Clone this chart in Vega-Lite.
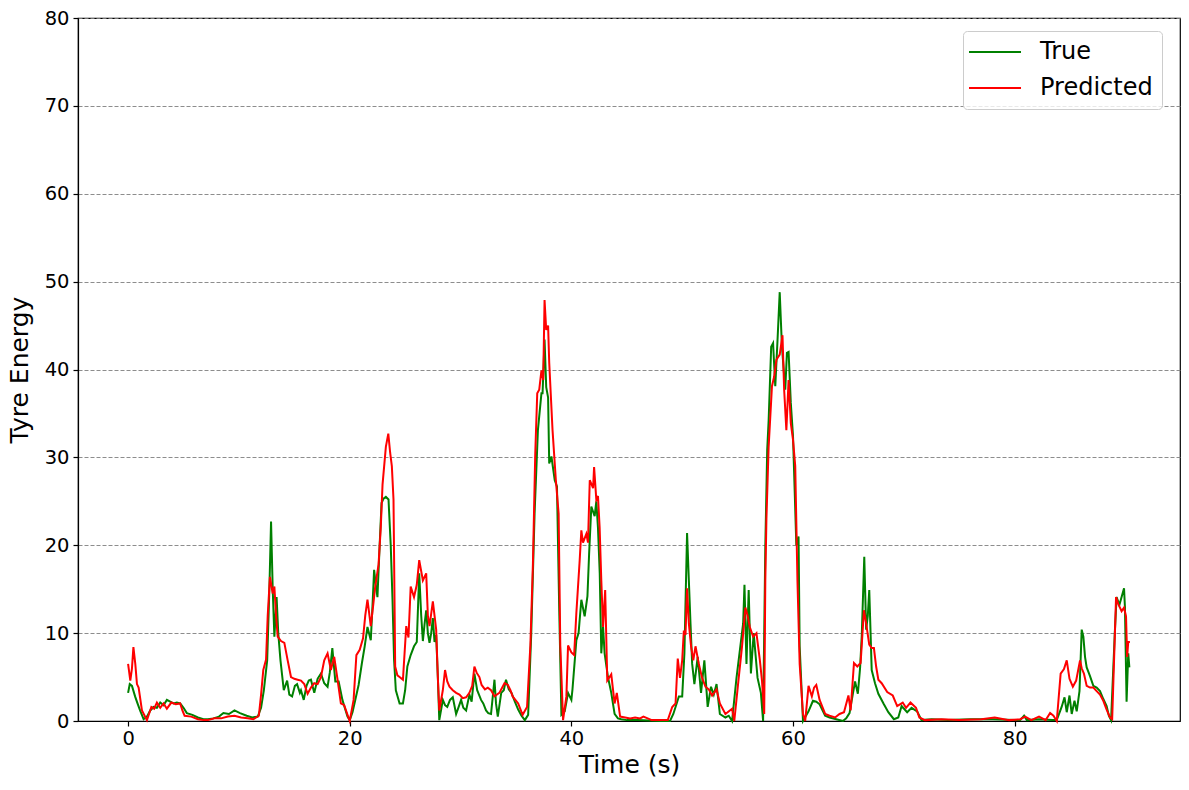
{
  "$schema": "https://vega.github.io/schema/vega-lite/v6.json",
  "width": 1102,
  "height": 703,
  "autosize": {"type": "none"},
  "padding": {"left": 78, "top": 18, "right": 9, "bottom": 69},
  "background": "white",
  "config": {
    "font": "DejaVu Sans",
    "view": {"stroke": "black", "strokeWidth": 1.2},
    "axis": {
      "domainColor": "black",
      "domainWidth": 1.2,
      "tickColor": "black",
      "tickSize": 5,
      "tickWidth": 1.2,
      "labelFont": "DejaVu Sans",
      "labelFontSize": 19.5,
      "labelColor": "black",
      "titleFont": "DejaVu Sans",
      "titleFontSize": 25,
      "titleFontWeight": "normal",
      "titleColor": "black"
    }
  },
  "datasets": {
    "truth": [
      {"t":0.0,"v":3.2},{"t":0.15,"v":4.2},{"t":0.35,"v":4.0},{"t":0.63,"v":2.8},{"t":0.85,"v":2.0},{"t":1.08,"v":1.2},{"t":1.4,"v":0.2},{"t":1.7,"v":0.5},{"t":2.0,"v":1.2},{"t":2.3,"v":1.6},{"t":2.6,"v":1.5},{"t":2.9,"v":2.1},{"t":3.2,"v":1.8},{"t":3.5,"v":2.4},{"t":3.8,"v":2.2},{"t":4.1,"v":2.0},{"t":4.4,"v":2.1},{"t":4.7,"v":2.0},{"t":5.0,"v":1.5},{"t":5.3,"v":0.9},{"t":5.8,"v":0.7},{"t":6.3,"v":0.4},{"t":6.8,"v":0.2},{"t":7.2,"v":0.2},{"t":7.7,"v":0.3},{"t":8.2,"v":0.5},{"t":8.6,"v":0.9},{"t":9.1,"v":0.8},{"t":9.6,"v":1.2},{"t":10.1,"v":0.9},{"t":10.7,"v":0.6},{"t":11.2,"v":0.4},{"t":11.7,"v":0.5},{"t":12.0,"v":1.5},{"t":12.25,"v":3.5},{"t":12.55,"v":6.9},{"t":12.75,"v":15},{"t":12.9,"v":22.7},{"t":13.05,"v":15},{"t":13.2,"v":9.6},{"t":13.4,"v":14.1},{"t":13.55,"v":10},{"t":13.75,"v":6.9},{"t":14.05,"v":3.5},{"t":14.35,"v":4.6},{"t":14.55,"v":3.0},{"t":14.8,"v":2.8},{"t":15.05,"v":4.0},{"t":15.25,"v":4.2},{"t":15.5,"v":3.2},{"t":15.6,"v":3.5},{"t":15.85,"v":2.4},{"t":16.1,"v":4.0},{"t":16.3,"v":4.6},{"t":16.5,"v":4.7},{"t":16.8,"v":3.2},{"t":17.1,"v":4.8},{"t":17.4,"v":5.4},{"t":17.7,"v":4.3},{"t":18.0,"v":3.9},{"t":18.2,"v":5.5},{"t":18.43,"v":8.3},{"t":18.7,"v":4.5},{"t":19.0,"v":4.5},{"t":19.34,"v":2.4},{"t":19.6,"v":1.3},{"t":19.8,"v":0.5},{"t":20.0,"v":0.1},{"t":20.25,"v":1.0},{"t":20.5,"v":2.4},{"t":20.8,"v":4.1},{"t":21.1,"v":6.6},{"t":21.35,"v":8.5},{"t":21.6,"v":10.7},{"t":21.9,"v":9.2},{"t":22.05,"v":13},{"t":22.2,"v":17.2},{"t":22.35,"v":15.5},{"t":22.5,"v":14.1},{"t":22.7,"v":20},{"t":22.87,"v":24.8},{"t":23.05,"v":25.3},{"t":23.26,"v":25.5},{"t":23.5,"v":25.2},{"t":23.7,"v":20},{"t":23.86,"v":13.8},{"t":24.0,"v":7},{"t":24.16,"v":3.5},{"t":24.5,"v":2.0},{"t":24.8,"v":2.0},{"t":25.0,"v":3.5},{"t":25.2,"v":6.2},{"t":25.5,"v":7.5},{"t":25.8,"v":8.5},{"t":26.05,"v":9},{"t":26.27,"v":16.8},{"t":26.45,"v":12},{"t":26.6,"v":9.1},{"t":26.75,"v":11},{"t":26.9,"v":12.6},{"t":27.05,"v":10},{"t":27.2,"v":8.9},{"t":27.35,"v":10},{"t":27.5,"v":11.7},{"t":27.65,"v":9},{"t":27.8,"v":9.8},{"t":27.95,"v":5},{"t":28.08,"v":0.1},{"t":28.25,"v":1.3},{"t":28.4,"v":2.4},{"t":28.6,"v":1.8},{"t":28.8,"v":1.6},{"t":29.05,"v":2.4},{"t":29.3,"v":2.7},{"t":29.6,"v":0.8},{"t":29.8,"v":1.5},{"t":30.05,"v":2.4},{"t":30.25,"v":1.5},{"t":30.5,"v":1.2},{"t":30.8,"v":3},{"t":31.0,"v":2.2},{"t":31.25,"v":5.4},{"t":31.5,"v":3.5},{"t":31.85,"v":2.4},{"t":32.05,"v":2.0},{"t":32.3,"v":1.2},{"t":32.5,"v":0.9},{"t":32.75,"v":0.8},{"t":33.06,"v":4.7},{"t":33.2,"v":2},{"t":33.36,"v":0.5},{"t":33.67,"v":3.2},{"t":33.9,"v":3.5},{"t":34.1,"v":4.7},{"t":34.35,"v":3.6},{"t":34.6,"v":3.2},{"t":34.9,"v":2.2},{"t":35.2,"v":1.3},{"t":35.5,"v":0.6},{"t":35.8,"v":0.1},{"t":36.1,"v":0.7},{"t":36.38,"v":10},{"t":36.68,"v":23.6},{"t":36.98,"v":33.1},{"t":37.3,"v":37.3},{"t":37.4,"v":37.3},{"t":37.58,"v":43.4},{"t":37.73,"v":38},{"t":37.9,"v":36.8},{"t":38.0,"v":29.3},{"t":38.2,"v":30.1},{"t":38.5,"v":27.4},{"t":38.7,"v":26.7},{"t":38.9,"v":13},{"t":39.1,"v":0.7},{"t":39.4,"v":1.1},{"t":39.7,"v":3.2},{"t":40.0,"v":2.4},{"t":40.1,"v":3.6},{"t":40.45,"v":9.2},{"t":40.65,"v":10},{"t":40.9,"v":13.8},{"t":41.2,"v":11.9},{"t":41.45,"v":14.2},{"t":41.6,"v":19},{"t":41.8,"v":24.4},{"t":42.1,"v":23.3},{"t":42.25,"v":25},{"t":42.4,"v":22},{"t":42.56,"v":16.8},{"t":42.7,"v":7.7},{"t":42.86,"v":10.7},{"t":43.0,"v":7.7},{"t":43.3,"v":5.0},{"t":43.6,"v":3.2},{"t":43.9,"v":0.8},{"t":44.2,"v":0.3},{"t":44.5,"v":0.2},{"t":45.0,"v":0.1},{"t":46.0,"v":0.1},{"t":47.0,"v":0.05},{"t":48.0,"v":0.0},{"t":48.9,"v":0.0},{"t":49.2,"v":0.8},{"t":49.4,"v":1.6},{"t":49.7,"v":2.8},{"t":50.0,"v":2.8},{"t":50.2,"v":7.7},{"t":50.44,"v":21.4},{"t":50.6,"v":16},{"t":50.75,"v":11.1},{"t":50.9,"v":6.5},{"t":51.1,"v":4.2},{"t":51.4,"v":7.3},{"t":51.7,"v":3.2},{"t":52.0,"v":6.9},{"t":52.3,"v":1.6},{"t":52.6,"v":3.9},{"t":52.85,"v":3.0},{"t":53.1,"v":4.2},{"t":53.4,"v":0.8},{"t":53.9,"v":0.4},{"t":54.2,"v":0.6},{"t":54.5,"v":0.0},{"t":54.9,"v":4.9},{"t":55.2,"v":8.0},{"t":55.5,"v":11.1},{"t":55.62,"v":15.5},{"t":55.8,"v":6.5},{"t":56.0,"v":14.9},{"t":56.2,"v":5.4},{"t":56.45,"v":10.0},{"t":56.8,"v":4.9},{"t":57.1,"v":3.2},{"t":57.3,"v":0.0},{"t":57.5,"v":19.8},{"t":57.67,"v":30.8},{"t":57.8,"v":34.2},{"t":58.03,"v":42.6},{"t":58.2,"v":43},{"t":58.4,"v":38.1},{"t":58.6,"v":43.3},{"t":58.8,"v":48.8},{"t":59.0,"v":42.6},{"t":59.3,"v":37.7},{"t":59.45,"v":41.9},{"t":59.6,"v":42},{"t":59.8,"v":36.2},{"t":60.0,"v":32.4},{"t":60.3,"v":20},{"t":60.5,"v":21},{"t":60.6,"v":8.5},{"t":60.9,"v":0.0},{"t":61.4,"v":1.1},{"t":61.8,"v":2.3},{"t":62.1,"v":2.2},{"t":62.4,"v":1.9},{"t":62.9,"v":0.6},{"t":63.3,"v":0.4},{"t":63.9,"v":0.2},{"t":64.5,"v":0.0},{"t":64.8,"v":0.3},{"t":65.1,"v":0.9},{"t":65.4,"v":3.1},{"t":65.6,"v":4.5},{"t":65.85,"v":3.1},{"t":66.05,"v":6},{"t":66.2,"v":9.6},{"t":66.43,"v":18.7},{"t":66.6,"v":10.4},{"t":66.75,"v":12},{"t":66.88,"v":14.9},{"t":67.1,"v":5.8},{"t":67.4,"v":4.3},{"t":67.7,"v":3.1},{"t":68.2,"v":1.9},{"t":68.6,"v":1.0},{"t":69.1,"v":0.2},{"t":69.5,"v":0.4},{"t":69.8,"v":1.7},{"t":70.3,"v":1.0},{"t":70.7,"v":1.5},{"t":71.2,"v":1.1},{"t":71.6,"v":0.1},{"t":72.5,"v":0.2},{"t":74,"v":0.1},{"t":76,"v":0.2},{"t":78,"v":0.2},{"t":80,"v":0.1},{"t":80.5,"v":0.1},{"t":80.85,"v":0.6},{"t":81.1,"v":0.1},{"t":82.2,"v":0.2},{"t":83.4,"v":0.1},{"t":83.8,"v":0.1},{"t":84.24,"v":1.6},{"t":84.5,"v":2.7},{"t":84.7,"v":1.0},{"t":84.95,"v":2.9},{"t":85.15,"v":0.8},{"t":85.4,"v":2.3},{"t":85.6,"v":1.1},{"t":85.85,"v":3.4},{"t":86.05,"v":10.4},{"t":86.2,"v":9.6},{"t":86.35,"v":7.3},{"t":86.5,"v":6.1},{"t":86.8,"v":5.1},{"t":87.1,"v":4.0},{"t":87.4,"v":3.8},{"t":87.7,"v":3.4},{"t":88.0,"v":2.5},{"t":88.3,"v":1.7},{"t":88.5,"v":0.6},{"t":88.7,"v":0.1},{"t":89.05,"v":10.4},{"t":89.2,"v":14.1},{"t":89.45,"v":13.2},{"t":89.65,"v":14.1},{"t":89.87,"v":15.1},{"t":89.95,"v":13},{"t":90.1,"v":2.2},{"t":90.25,"v":7.7},{"t":90.35,"v":6.1}
    ],
    "pred": [
      {"t":0.0,"v":6.5},{"t":0.2,"v":4.6},{"t":0.35,"v":6},{"t":0.48,"v":8.4},{"t":0.65,"v":6.5},{"t":0.8,"v":4.2},{"t":0.95,"v":3.8},{"t":1.25,"v":1.2},{"t":1.7,"v":0.1},{"t":2.1,"v":1.6},{"t":2.35,"v":1.4},{"t":2.6,"v":2.1},{"t":2.9,"v":1.5},{"t":3.2,"v":2.0},{"t":3.5,"v":1.4},{"t":3.9,"v":2.1},{"t":4.3,"v":1.9},{"t":4.7,"v":2.0},{"t":4.9,"v":1.2},{"t":5.1,"v":0.6},{"t":5.7,"v":0.5},{"t":6.3,"v":0.2},{"t":6.8,"v":0.1},{"t":7.2,"v":0.1},{"t":7.8,"v":0.3},{"t":8.4,"v":0.3},{"t":9.0,"v":0.5},{"t":9.6,"v":0.6},{"t":10.2,"v":0.4},{"t":10.8,"v":0.3},{"t":11.3,"v":0.2},{"t":11.8,"v":0.6},{"t":12.0,"v":3},{"t":12.2,"v":5.8},{"t":12.45,"v":7.0},{"t":12.6,"v":12},{"t":12.8,"v":16.4},{"t":13.05,"v":14.5},{"t":13.2,"v":15.3},{"t":13.35,"v":12},{"t":13.5,"v":9.6},{"t":13.8,"v":9.1},{"t":14.1,"v":8.9},{"t":14.4,"v":6.9},{"t":14.7,"v":5.0},{"t":15.0,"v":4.8},{"t":15.3,"v":4.7},{"t":15.6,"v":4.6},{"t":15.9,"v":4.2},{"t":16.2,"v":3.1},{"t":16.5,"v":3.8},{"t":16.8,"v":4.3},{"t":17.1,"v":4.2},{"t":17.4,"v":5.0},{"t":17.7,"v":6.9},{"t":18.0,"v":7.7},{"t":18.3,"v":5.8},{"t":18.6,"v":7.3},{"t":18.9,"v":4.7},{"t":19.2,"v":2.0},{"t":19.5,"v":1.8},{"t":19.8,"v":0.7},{"t":20.0,"v":0.0},{"t":20.35,"v":2.4},{"t":20.6,"v":7.5},{"t":20.9,"v":8.1},{"t":21.2,"v":9.4},{"t":21.4,"v":12},{"t":21.6,"v":13.8},{"t":21.9,"v":10.8},{"t":22.1,"v":13},{"t":22.3,"v":15.3},{"t":22.6,"v":17.8},{"t":22.8,"v":22},{"t":22.96,"v":26.9},{"t":23.26,"v":31.2},{"t":23.48,"v":32.7},{"t":23.65,"v":30.5},{"t":23.8,"v":29},{"t":23.95,"v":25.2},{"t":24.1,"v":6.2},{"t":24.3,"v":5.2},{"t":24.5,"v":5.0},{"t":24.8,"v":4.7},{"t":25.1,"v":10.8},{"t":25.3,"v":9.5},{"t":25.5,"v":15.3},{"t":25.8,"v":14.1},{"t":26.05,"v":15.5},{"t":26.27,"v":18.3},{"t":26.6,"v":16.0},{"t":26.9,"v":16.8},{"t":27.05,"v":12},{"t":27.2,"v":10.8},{"t":27.5,"v":13.6},{"t":27.8,"v":10.4},{"t":27.95,"v":5},{"t":28.08,"v":1.2},{"t":28.4,"v":3.5},{"t":28.6,"v":5.8},{"t":28.8,"v":4.5},{"t":29.0,"v":3.9},{"t":29.3,"v":3.5},{"t":29.6,"v":3.2},{"t":29.9,"v":3.0},{"t":30.2,"v":2.6},{"t":30.5,"v":2.7},{"t":30.8,"v":3.2},{"t":31.05,"v":4},{"t":31.25,"v":6.2},{"t":31.45,"v":5.5},{"t":31.7,"v":5.0},{"t":31.9,"v":4.1},{"t":32.2,"v":3.6},{"t":32.46,"v":3.8},{"t":32.75,"v":3.5},{"t":33.06,"v":2.8},{"t":33.5,"v":3.2},{"t":33.97,"v":4.3},{"t":34.27,"v":4.1},{"t":34.5,"v":3.5},{"t":34.7,"v":2.8},{"t":35.2,"v":2.0},{"t":35.6,"v":0.7},{"t":36.0,"v":1.6},{"t":36.3,"v":8.6},{"t":36.53,"v":17.9},{"t":36.74,"v":30.4},{"t":36.92,"v":37.3},{"t":37.1,"v":37.7},{"t":37.3,"v":39.9},{"t":37.46,"v":38.8},{"t":37.58,"v":47.9},{"t":37.73,"v":44.5},{"t":37.9,"v":45},{"t":38.0,"v":40.8},{"t":38.3,"v":33.1},{"t":38.6,"v":27.4},{"t":38.85,"v":23.6},{"t":39.0,"v":8.6},{"t":39.25,"v":0.1},{"t":39.55,"v":2.8},{"t":39.7,"v":8.6},{"t":40.0,"v":7.8},{"t":40.25,"v":7.5},{"t":40.45,"v":12.3},{"t":40.75,"v":18.3},{"t":40.9,"v":21.7},{"t":41.05,"v":20.3},{"t":41.35,"v":21.3},{"t":41.5,"v":20.3},{"t":41.66,"v":27.4},{"t":41.96,"v":26.5},{"t":42.05,"v":28.9},{"t":42.25,"v":25.2},{"t":42.4,"v":25.6},{"t":42.55,"v":22},{"t":42.7,"v":16},{"t":42.86,"v":10.7},{"t":43.05,"v":14.9},{"t":43.24,"v":4.6},{"t":43.6,"v":5.3},{"t":43.9,"v":2.0},{"t":44.1,"v":3.2},{"t":44.4,"v":0.5},{"t":44.85,"v":0.4},{"t":45.3,"v":0.3},{"t":45.75,"v":0.4},{"t":46.2,"v":0.3},{"t":46.5,"v":0.5},{"t":47.25,"v":0.1},{"t":48.0,"v":0.1},{"t":48.7,"v":0.1},{"t":49.1,"v":1.6},{"t":49.4,"v":2.0},{"t":49.6,"v":7.1},{"t":49.8,"v":4.9},{"t":50.0,"v":6.9},{"t":50.15,"v":10.3},{"t":50.3,"v":9.8},{"t":50.44,"v":15.1},{"t":50.6,"v":11.1},{"t":50.8,"v":8.5},{"t":51.0,"v":6.9},{"t":51.2,"v":8.5},{"t":51.5,"v":6.5},{"t":51.8,"v":4.9},{"t":52.1,"v":3.9},{"t":52.4,"v":3.6},{"t":52.7,"v":2.9},{"t":53.1,"v":3.6},{"t":53.4,"v":2.0},{"t":53.9,"v":0.8},{"t":54.5,"v":1.4},{"t":54.7,"v":0.0},{"t":55.1,"v":4.9},{"t":55.4,"v":8.5},{"t":55.7,"v":12.9},{"t":55.9,"v":12.0},{"t":56.1,"v":10.7},{"t":56.4,"v":9.6},{"t":56.7,"v":10.0},{"t":57.0,"v":7.0},{"t":57.2,"v":4.6},{"t":57.4,"v":0.8},{"t":57.5,"v":16},{"t":57.6,"v":23},{"t":57.8,"v":31.2},{"t":58.1,"v":38.1},{"t":58.3,"v":39.2},{"t":58.5,"v":41.1},{"t":58.8,"v":41.7},{"t":59.05,"v":43.9},{"t":59.2,"v":37.7},{"t":59.4,"v":33.1},{"t":59.6,"v":38.8},{"t":59.8,"v":33.9},{"t":60.0,"v":32},{"t":60.2,"v":29.0},{"t":60.4,"v":16},{"t":60.6,"v":6.5},{"t":60.9,"v":0.8},{"t":61.1,"v":0.0},{"t":61.4,"v":4.0},{"t":61.7,"v":2.8},{"t":61.9,"v":3.8},{"t":62.1,"v":4.1},{"t":62.4,"v":2.4},{"t":62.9,"v":0.8},{"t":63.3,"v":0.6},{"t":63.8,"v":0.4},{"t":64.2,"v":0.8},{"t":64.6,"v":1.0},{"t":65.0,"v":2.9},{"t":65.2,"v":1.2},{"t":65.5,"v":6.6},{"t":65.8,"v":6.2},{"t":66.1,"v":6.6},{"t":66.4,"v":12.6},{"t":66.6,"v":11.1},{"t":66.88,"v":8.7},{"t":67.1,"v":8.3},{"t":67.3,"v":8.3},{"t":67.5,"v":6.2},{"t":67.7,"v":4.7},{"t":68.0,"v":4.3},{"t":68.5,"v":3.3},{"t":69.0,"v":2.9},{"t":69.4,"v":1.7},{"t":69.9,"v":2.1},{"t":70.2,"v":1.5},{"t":70.6,"v":2.1},{"t":71.1,"v":1.5},{"t":71.4,"v":0.4},{"t":71.9,"v":0.1},{"t":73.4,"v":0.2},{"t":75,"v":0.1},{"t":77,"v":0.2},{"t":78.2,"v":0.4},{"t":79.5,"v":0.1},{"t":80.5,"v":0.2},{"t":80.95,"v":0.5},{"t":81.5,"v":0.1},{"t":82.2,"v":0.5},{"t":82.8,"v":0.1},{"t":83.2,"v":0.9},{"t":83.5,"v":0.6},{"t":83.8,"v":0.0},{"t":84.15,"v":5.4},{"t":84.45,"v":5.9},{"t":84.7,"v":6.9},{"t":84.95,"v":4.8},{"t":85.25,"v":3.9},{"t":85.55,"v":4.6},{"t":85.9,"v":6.9},{"t":86.05,"v":6.0},{"t":86.25,"v":5.4},{"t":86.5,"v":4.0},{"t":86.8,"v":3.8},{"t":87.1,"v":3.8},{"t":87.4,"v":3.4},{"t":87.7,"v":3.0},{"t":88.0,"v":2.3},{"t":88.3,"v":1.3},{"t":88.6,"v":0.4},{"t":88.8,"v":0.2},{"t":89.15,"v":14.1},{"t":89.35,"v":13.3},{"t":89.5,"v":12.9},{"t":89.65,"v":12.5},{"t":89.87,"v":12.9},{"t":90.05,"v":11.9},{"t":90.15,"v":7.3},{"t":90.25,"v":9.0},{"t":90.4,"v":9.0}
    ]
  },
  "encoding": {
    "x": {
      "field": "t",
      "type": "quantitative",
      "scale": {"domain": [-4.52, 94.92], "nice": false, "zero": false},
      "axis": {"values": [0, 20, 40, 60, 80], "grid": false, "title": "Time (s)", "labelPadding": 3, "titlePadding": 5}
    },
    "y": {
      "field": "v",
      "type": "quantitative",
      "scale": {"domain": [0, 80], "nice": false},
      "axis": {
        "values": [0, 10, 20, 30, 40, 50, 60, 70, 80],
        "grid": true,
        "gridColor": "gray",
        "gridDash": [4, 2],
        "gridWidth": 0.9,
        "title": "Tyre Energy",
        "labelPadding": 4,
        "titlePadding": 12
      }
    }
  },
  "layer": [
    {
      "data": {"name": "truth"},
      "mark": {"type": "line", "strokeWidth": 2},
      "encoding": {
        "color": {
          "datum": "True",
          "type": "nominal",
          "scale": {"domain": ["True", "Predicted"], "range": ["green", "red"]},
          "legend": {
            "title": null,
            "orient": "none",
            "legendX": 885,
            "legendY": 13,
            "fillColor": "rgba(255,255,255,0.8)",
            "strokeColor": "#cccccc",
            "cornerRadius": 4,
            "padding": 9,
            "symbolType": "M-3,0H7.4",
            "symbolSize": 100,
            "symbolStrokeWidth": 2,
            "labelFontSize": 24,
            "labelFont": "DejaVu Sans",
            "labelColor": "black",
            "labelOffset": 44,
            "rowPadding": 12
          }
        }
      }
    },
    {
      "data": {"name": "pred"},
      "mark": {"type": "line", "strokeWidth": 2},
      "encoding": {"color": {"datum": "Predicted", "type": "nominal"}}
    }
  ]
}
